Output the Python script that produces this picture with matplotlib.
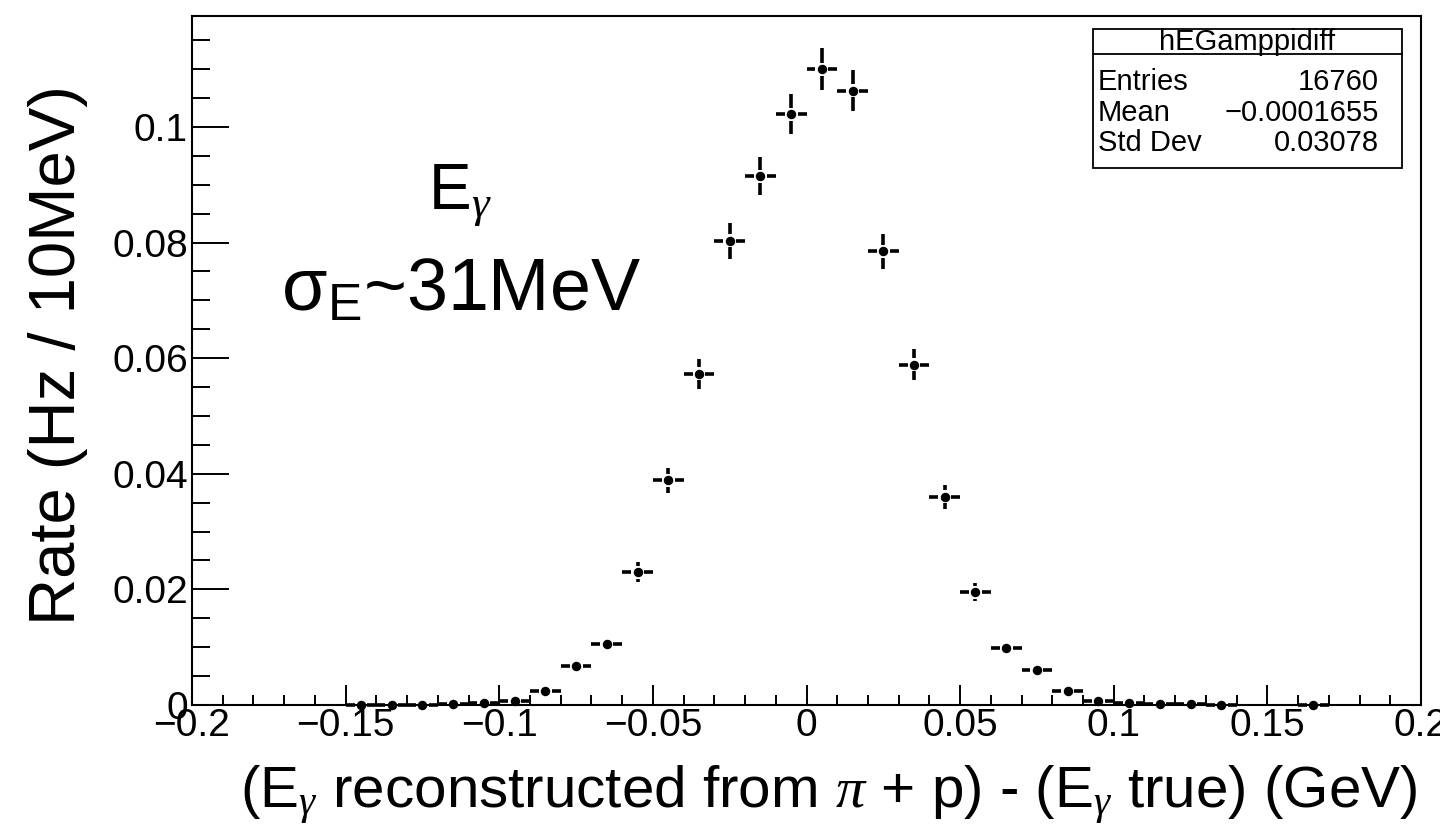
import numpy as np
import matplotlib.pyplot as plt
from matplotlib.collections import LineCollection
from matplotlib.patches import Rectangle
from matplotlib.ticker import MultipleLocator

plt.rcParams['font.family'] = ['Liberation Sans', 'DejaVu Sans']
plt.rcParams['mathtext.fontset'] = 'custom'
plt.rcParams['mathtext.rm'] = 'Liberation Sans'
plt.rcParams['mathtext.it'] = 'Liberation Serif:italic'

# bin centres (GeV), rate per bin (Hz / 10 MeV) and errors
bin_centres = [-0.145, -0.135, -0.125, -0.115, -0.105, -0.095, -0.085, -0.075,
               -0.065, -0.055, -0.045, -0.035, -0.025, -0.015, -0.005,
               0.005, 0.015, 0.025, 0.035, 0.045, 0.055, 0.065, 0.075,
               0.085, 0.095, 0.105, 0.115, 0.125, 0.135, 0.165]
rates = [0.00003, 0.00003, 0.00005, 0.0001, 0.0003, 0.0007, 0.0024, 0.0068,
         0.0106, 0.0230, 0.0389, 0.0573, 0.0803, 0.0915, 0.1022,
         0.1100, 0.1063, 0.0785, 0.0589, 0.0360, 0.0195, 0.0098, 0.0061,
         0.0024, 0.0007, 0.0004, 0.0002, 0.0001, 0.00004, 0.00002]
rate_errs = [0.00006, 0.00006, 0.00008, 0.00011, 0.00019, 0.00029, 0.00054, 0.0009,
             0.00113, 0.00166, 0.00216, 0.00262, 0.0031, 0.00331, 0.0035,
             0.00363, 0.00357, 0.00307, 0.00266, 0.00208, 0.00153, 0.00108, 0.00086,
             0.00054, 0.00029, 0.00022, 0.00015, 0.00011, 0.00007, 0.00005]
bin_width = 0.01

stats_title = 'hEGamppidiff'
stats_names = ['Entries', 'Mean', 'Std Dev']
stats_values = ['16760', '\u22120.0001655', '0.03078']

W, H = 1440, 830
fig = plt.figure(figsize=(W / 100, H / 100), dpi=100)

def fx(px):
    return px / W

def fy(py):
    return 1 - py / H

ax = fig.add_axes([fx(192), fy(705), fx(1421) - fx(192), fy(16) - fy(705)])
ax.set_xlim(-0.2, 0.2)
ax.set_ylim(0, 0.1192)

# error bars with a gap around the marker, like ROOT's "E" draw option
gx, gy = 0.0021, 0.00112
hw = bin_width / 2
segs = []
for x, y, e in zip(bin_centres, rates, rate_errs):
    segs.append([(x - hw, y), (x - gx, y)])
    segs.append([(x + gx, y), (x + hw, y)])
    if e > gy:
        segs.append([(x, y + gy), (x, y + e)])
        segs.append([(x, y - gy), (x, y - e)])
lc = LineCollection(segs, colors='k', linewidths=2.6, capstyle='butt', clip_on=False)
ax.add_collection(lc)
ax.plot(bin_centres, rates, 'o', color='k', ms=5.8, clip_on=False, zorder=3)

for s in ax.spines.values():
    s.set_linewidth(1.5)

ax.xaxis.set_minor_locator(MultipleLocator(0.01))
ax.yaxis.set_minor_locator(MultipleLocator(0.005))
ax.set_xticks([-0.2, -0.15, -0.1, -0.05, 0, 0.05, 0.1, 0.15, 0.2])
ax.set_xticklabels(['\u22120.2', '\u22120.15', '\u22120.1', '\u22120.05', '0',
                    '0.05', '0.1', '0.15', '0.2'])
ax.set_yticks([0, 0.02, 0.04, 0.06, 0.08, 0.1])
ax.set_yticklabels(['0', '0.02', '0.04', '0.06', '0.08', '0.1'])
ax.tick_params(axis='x', which='major', direction='in', length=14.4, width=1.4,
               labelsize=28, pad=2)
ax.tick_params(axis='x', which='minor', direction='in', length=7.2, width=1.4)
ax.tick_params(axis='y', which='major', direction='in', length=26.6, width=1.4,
               labelsize=28, pad=3)
ax.tick_params(axis='y', which='minor', direction='in', length=13, width=1.4)

# axis titles
fig.text(fx(1418), fy(808), r'(E$_{\gamma}$ reconstructed from $\pi$ + p) - (E$_{\gamma}$ true) (GeV)',
         ha='right', va='baseline', fontsize=42)
fig.text(fx(58), fy(355), 'Rate (Hz / 10MeV)', rotation=90, ha='center', va='center',
         fontsize=47)

# annotations
fig.text(fx(428), fy(208), r'E$_{\gamma}$', ha='left', va='baseline', fontsize=46)
fig.text(fx(281), fy(311), r'σ$_{\rm E}$~31MeV', ha='left', va='baseline', fontsize=53)

# stats box
bx0, by0, bx1, by1 = 1093, 29, 1402, 168
fig.patches.append(Rectangle((fx(bx0), fy(by1)), fx(bx1) - fx(bx0), fy(by0) - fy(by1),
                             transform=fig.transFigure, fill=True, facecolor='white',
                             edgecolor='k', linewidth=1.3))
fig.add_artist(plt.Line2D([fx(bx0), fx(bx1)], [fy(54), fy(54)], color='k', lw=1.3,
                          transform=fig.transFigure))
fig.text(fx((bx0 + bx1) / 2), fy(42), stats_title, ha='center', va='center', fontsize=21)
for i, (nm, val) in enumerate(zip(stats_names, stats_values)):
    yy = fy(82 + 30.7 * i)
    fig.text(fx(1098), yy, nm, ha='left', va='center', fontsize=21)
    fig.text(fx(1379), yy, val, ha='right', va='center', fontsize=21)

fig.savefig('out.png', dpi=100)
